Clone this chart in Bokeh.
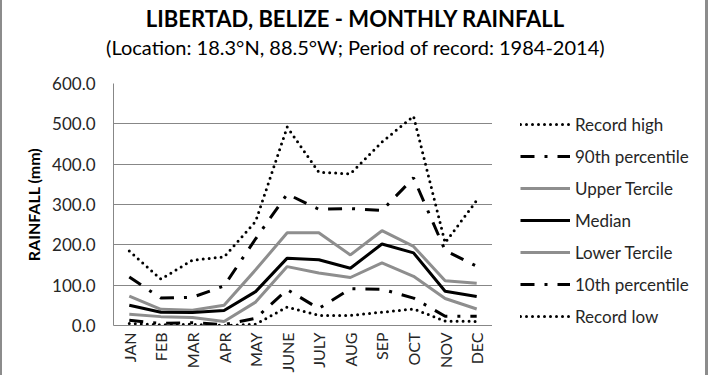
from bokeh.plotting import figure
from bokeh.models import FixedTicker, NumeralTickFormatter, Range1d, FactorRange, Label
from bokeh.layouts import column, row
from bokeh.embed import file_html
from bokeh.resources import INLINE
import math

months = ["JAN", "FEB", "MAR", "APR", "MAY", "JUNE", "JULY", "AUG", "SEP", "OCT", "NOV", "DEC"]
record_high = [185, 115, 162, 170, 258, 492, 380, 376, 455, 519, 205, 310]
p90 = [120, 68, 70, 98, 215, 326, 288, 290, 285, 366, 186, 147]
upper_tercile = [73, 40, 38, 50, 138, 230, 230, 175, 235, 196, 111, 105]
median = [50, 33, 32, 37, 84, 167, 163, 142, 202, 180, 85, 72]
lower_tercile = [28, 22, 20, 10, 58, 146, 130, 119, 155, 122, 67, 41]
p10 = [13, 5, 7, 2, 18, 89, 42, 91, 90, 68, 23, 23]
record_low = [5, 2, 3, 0, 3, 46, 25, 25, 33, 41, 11, 10]
y_ticks = [0, 100, 200, 300, 400, 500, 600]

title_text = "LIBERTAD, BELIZE - MONTHLY RAINFALL"
subtitle_text = "(Location: 18.3°N, 88.5°W; Period of record: 1984-2014)"

series = [
    ("Record high", record_high, dict(line_color="black", line_width=3, line_dash="0 6", line_cap="round")),
    ("90th percentile", p90, dict(line_color="black", line_width=3, line_dash="14 10 3 10")),
    ("Upper Tercile", upper_tercile, dict(line_color="#8e8e8e", line_width=3)),
    ("Median", median, dict(line_color="black", line_width=3)),
    ("Lower Tercile", lower_tercile, dict(line_color="#8e8e8e", line_width=3)),
    ("10th percentile", p10, dict(line_color="black", line_width=3, line_dash="14 10 3 10")),
    ("Record low", record_low, dict(line_color="black", line_width=3, line_dash="0 6", line_cap="round")),
]

FONT = "Lato"
TXT = "#262626"
GRID = "#878787"


def blank(fig):
    fig.axis.visible = False
    fig.grid.grid_line_color = None
    fig.outline_line_color = None
    fig.background_fill_color = None
    fig.border_fill_color = None


# --- title strip ---
pt = figure(width=710, height=70, x_range=(0, 1), y_range=(0, 1), output_backend="svg",
            toolbar_location=None, min_border=0)
blank(pt)
pt.add_layout(Label(x=355, y=52, x_units="screen", y_units="screen", text=title_text,
                    text_align="center", text_baseline="middle", text_font=FONT,
                    text_font_size="22px", text_font_style="bold", text_color="black"))
pt.add_layout(Label(x=355, y=24, x_units="screen", y_units="screen", text=subtitle_text,
                    text_align="center", text_baseline="middle", text_font=FONT,
                    text_font_size="20px", text_color="black"))

# --- main chart ---
p = figure(width=492, height=305, x_range=FactorRange(*months, range_padding=0),
           y_range=Range1d(0, 600), output_backend="svg", toolbar_location=None,
           min_border_left=113, min_border_right=0, min_border_top=13, min_border_bottom=49)
p.border_fill_color = None
p.outline_line_color = None
p.xgrid.grid_line_color = None
p.ygrid.grid_line_color = GRID
p.ygrid.grid_line_width = 1

p.yaxis.ticker = FixedTicker(ticks=y_ticks)
p.yaxis.formatter = NumeralTickFormatter(format="0.0")
p.yaxis.axis_label = "RAINFALL (mm)"
p.yaxis.axis_label_text_font = FONT
p.yaxis.axis_label_text_font_size = "16px"
p.yaxis.axis_label_text_font_style = "bold"
p.yaxis.axis_label_text_color = "black"
p.yaxis.axis_label_standoff = 6
p.yaxis.major_label_standoff = 18
for ax in (p.xaxis, p.yaxis):
    ax.major_label_text_font = FONT
    ax.major_label_text_font_size = "17px"
    ax.major_label_text_color = TXT
    ax.axis_line_color = GRID
    ax.major_tick_line_color = None
    ax.minor_tick_line_color = None
    ax.major_tick_out = 0
    ax.major_tick_in = 0
    ax.minor_tick_out = 0
    ax.minor_tick_in = 0
p.xaxis.major_label_text_font_size = "16px"
p.xaxis.major_label_orientation = math.pi / 2
p.xaxis.major_label_standoff = 7

for name, vals, style in series:
    p.line(months, vals, **style)

# --- legend panel (series drawn off-range; only the legend shows) ---
pl = figure(width=218, height=305, x_range=FactorRange(*months), y_range=Range1d(-2000, -1000),
            output_backend="svg", toolbar_location=None,
            min_border_left=0, min_border_right=0, min_border_top=13, min_border_bottom=0)
blank(pl)
for name, vals, style in series:
    pl.line(months, vals, legend_label=name, **style)
lg = pl.legend[0]
lg.location = "top_left"
lg.margin = 28
lg.padding = 0
lg.border_line_color = None
lg.background_fill_alpha = 0
lg.glyph_width = 50
lg.glyph_height = 26
lg.label_height = 26
lg.spacing = 6
lg.label_standoff = 5
lg.label_text_font = FONT
lg.label_text_font_size = "17px"
lg.label_text_color = TXT

layout = column(pt, row(p, pl),
                styles={"background-color": "white",
                        "box-shadow": "inset 2px 0 0 #8c8c8c, inset -2px 0 0 #ffffff, inset -5px 0 0 #8c8c8c"})
open("out.html", "w").write(file_html(layout, INLINE))
